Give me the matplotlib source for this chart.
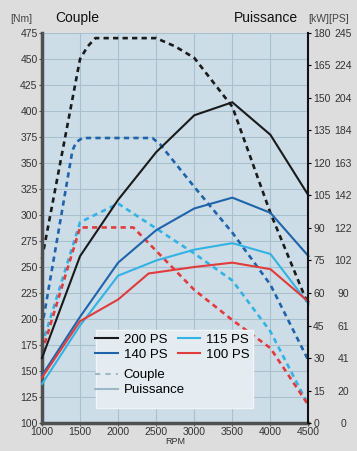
import numpy as np
import matplotlib.pyplot as plt
from matplotlib.patches import Rectangle
from matplotlib.lines import Line2D

plt.rcParams['font.family'] = ['Liberation Sans', 'DejaVu Sans']

# couple (Nm), axe de gauche
t200_rpm = [1000, 1500, 1600, 1700, 2500, 2750, 3000, 3500, 4000, 4500]
t200 = [258, 450, 462, 470, 470, 462, 451, 404, 302, 213]
t140_rpm = [1000, 1400, 1450, 1530, 2450, 2550, 3000, 3500, 4000, 4500]
t140 = [192, 362, 370, 374, 374, 368, 327, 283, 233, 160]
t115_rpm = [1000, 1500, 2000, 2500, 3000, 3500, 4000, 4500]
t115 = [175, 293, 311, 287, 263, 237, 188, 117]
t100_rpm = [1000, 1500, 2200, 3000, 3500, 4000, 4500]
t100 = [168, 288, 288, 228, 199, 172, 117]

# puissance (kW), axe de droite
p_rpm = [1000, 1500, 2000, 2500, 3000, 3500, 4000, 4500]
p200 = [30, 77, 103, 125, 142, 148, 133, 105]
p140 = [22, 49, 74, 89, 99, 104, 97, 77]
p115 = [18, 45, 68, 75, 80, 83, 78, 55]
p100_rpm = [1000, 1500, 2000, 2400, 3000, 3500, 4000, 4500]
p100 = [21, 47, 57, 69, 72, 74, 71, 56]

nm_ticks = list(range(100, 476, 25))
kw_ticks = list(range(0, 181, 15))
ps_labels = ['0', '20', '41', '61', '90', '102', '122', '142', '163', '184', '204', '224', '245']
rpm_ticks = list(range(1000, 4501, 500))

names = ['200 PS', '140 PS', '115 PS', '100 PS']
colors = ['#1a1a1a', '#1f63ab', '#33b2e4', '#e23b3b']

fig = plt.figure(figsize=(3.57, 4.51), dpi=100, facecolor='#dddddd')
ax = fig.add_axes([0.1176, 0.062, 0.7465, 0.865])
ax.set_facecolor('#ccdde7')
ax.set_xlim(1000, 4500)
ax.set_ylim(100, 475)
ax.set_xticks(rpm_ticks)
ax.set_yticks(nm_ticks)
ax.grid(True, color='#a9c1cf', lw=0.8)
ax.set_axisbelow(True)
for s in ['top', 'right']:
    ax.spines[s].set_visible(False)
for s in ['left', 'bottom']:
    ax.spines[s].set_color('#505050')
    ax.spines[s].set_linewidth(2.5)
ax.tick_params(axis='both', labelsize=7.5, labelcolor='#333333', color='#505050',
               length=2.2, width=0.8, pad=1)
ax.set_xlabel('RPM', fontsize=6.5, color='#333333', labelpad=0)

ax2 = ax.twinx()
ax2.set_ylim(0, 180)
ax2.set_yticks(kw_ticks)
for s in ['top', 'left', 'bottom']:
    ax2.spines[s].set_visible(False)
ax2.spines['right'].set_color('#111111')
ax2.spines['right'].set_linewidth(1.5)
ax2.tick_params(axis='y', labelsize=7.5, labelcolor='#333333', length=2.2, width=0.8, pad=1.2)

ax3 = ax.twinx()
ax3.set_ylim(0, 180)
ax3.set_yticks(kw_ticks)
ax3.set_yticklabels(ps_labels)
for s in ax3.spines.values():
    s.set_visible(False)
ax3.tick_params(axis='y', labelsize=7.5, labelcolor='#333333', length=0, pad=25)
for lab in ax3.get_yticklabels():
    lab.set_horizontalalignment('center')

dash = (0, (2, 1.6))
for r, v, c in zip([t200_rpm, t140_rpm, t115_rpm, t100_rpm], [t200, t140, t115, t100], colors):
    ax.plot(r, v, ls=dash, color=c, lw=1.9, clip_on=False)
for r, v, c in zip([p_rpm, p_rpm, p_rpm, p100_rpm], [p200, p140, p115, p100], colors):
    ax2.plot(r, v, color=c, lw=1.5, solid_joinstyle='miter', clip_on=False)

# legende
box = Rectangle((0.203, 0.038), 0.589, 0.2, transform=ax2.transAxes,
                facecolor='#e4ecf1', edgecolor='#f2f5f7', lw=1, zorder=5)
ax2.add_patch(box)
handles = [Line2D([], [], color=c, lw=1.5) for c in colors]
leg1 = ax2.legend(handles, names, ncol=2,
                  loc='upper left', bbox_to_anchor=(0.2, 0.23), frameon=False,
                  fontsize=9.5, handlelength=1.7, handletextpad=0.45,
                  columnspacing=0.8, labelspacing=0.25, borderpad=0, borderaxespad=0)
leg1.set_zorder(6)
ax2.add_artist(leg1)
leg2 = ax2.legend([Line2D([], [], color='#9db8c9', lw=1.5, ls=(0, (2.5, 2.5))),
                   Line2D([], [], color='#9db8c9', lw=1.5)],
                  ['Couple', 'Puissance'], loc='upper left',
                  bbox_to_anchor=(0.2, 0.138), frameon=False, fontsize=9.5,
                  handlelength=1.7, handletextpad=0.45, labelspacing=0.2,
                  borderpad=0, borderaxespad=0)
leg2.set_zorder(6)

fig.text(0.03, 0.958, '[Nm]', fontsize=7.5, color='#444444', va='center')
fig.text(0.155, 0.96, 'Couple', fontsize=10, color='#111111', va='center')
fig.text(0.835, 0.96, 'Puissance', fontsize=10, color='#111111', va='center', ha='right')
fig.text(0.864, 0.958, '[kW][PS]', fontsize=7.5, color='#444444', va='center')

fig.savefig('out.png', dpi=100, facecolor=fig.get_facecolor())
